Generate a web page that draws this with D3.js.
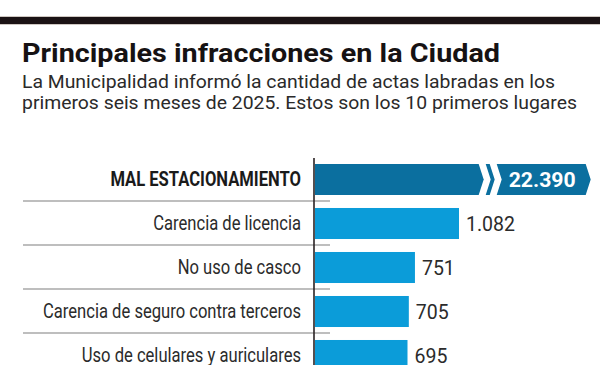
<!DOCTYPE html>
<html>
<head>
<meta charset="utf-8">
<script src="https://cdn.jsdelivr.net/npm/d3@7"></script>
<style>
  body { margin: 0; background: #fff; }
  svg { display: block; font-family: Roboto, 'Noto Sans', sans-serif; }
</style>
</head>
<body>
<script>
// data (only the first 5 of the 10 rows are visible)
const categories = [
  'MAL ESTACIONAMIENTO',
  'Carencia de licencia',
  'No uso de casco',
  'Carencia de seguro contra terceros',
  'Uso de celulares y auriculares'
]
const values = [22390, 1082, 751, 705, 695]
const valueLabels = ['22.390', '1.082', '751', '705', '695']
const highlighted = [true, false, false, false, false]

const titleText = 'Principales infracciones en la Ciudad'
const subtitleLines = [
  'La Municipalidad informó la cantidad de actas labradas en los',
  'primeros seis meses de 2025. Estos son los 10 primeros lugares'
]

const width = 600
const height = 365
const darkBlue = '#0b6f9f'
const lightBlue = '#0b9cd9'
const breakValue = 1230 // where the out-of-scale bar is cut

const svg = d3.select('body')
  .append('svg')
  .attr('width', width)
  .attr('height', height)

// top rule
svg.append('rect')
  .attr('x', 0).attr('y', 16).attr('width', width).attr('height', 9)
  .attr('fill', '#cfc8c2')
svg.append('rect')
  .attr('x', 0).attr('y', 17).attr('width', width).attr('height', 7)
  .attr('fill', '#1b1314')

svg.append('text')
  .attr('x', 22).attr('y', 62)
  .attr('font-size', 26).attr('font-weight', 700)
  .attr('fill', '#161213')
  .attr('textLength', 478).attr('lengthAdjust', 'spacingAndGlyphs')
  .text(titleText)

const subWidths = [533, 555]
svg.selectAll('text.sub')
  .data(subtitleLines)
  .enter()
  .append('text')
  .attr('class', 'sub')
  .attr('x', 22)
  .attr('y', (d, i) => 88 + i * 21)
  .attr('font-size', 17.5)
  .attr('fill', '#2a2a2a')
  .attr('textLength', (d, i) => subWidths[i])
  .attr('lengthAdjust', 'spacingAndGlyphs')
  .text(d => d)

// scales
const x = d3.scaleLinear()
  .domain([0, 1082])
  .range([315, 459])

const y = d3.scaleBand()
  .domain(categories)
  .range([157.5, 157.5 + categories.length * 44])
  .paddingInner(0.295)
  .paddingOuter(0.1475)

const rows = categories.map((c, i) => ({
  name: c, value: values[i], label: valueLabels[i], hi: highlighted[i]
}))

// separators between rows
svg.selectAll('line.sep')
  .data(categories.slice(1))
  .enter()
  .append('line')
  .attr('class', 'sep')
  .attr('x1', 23).attr('x2', 330)
  .attr('y1', d => y(d) - y.step() * y.paddingInner() / 2 - 0.5)
  .attr('y2', d => y(d) - y.step() * y.paddingInner() / 2 - 0.5)
  .attr('stroke', '#a9a9a9')
  .attr('stroke-width', 1.3)

// normal bars
const normal = rows.filter(d => !d.hi)
svg.selectAll('rect.bar')
  .data(normal)
  .enter()
  .append('rect')
  .attr('class', 'bar')
  .attr('x', x(0))
  .attr('y', d => y(d.name))
  .attr('width', d => x(d.value) - x(0))
  .attr('height', y.bandwidth())
  .attr('fill', lightBlue)

svg.selectAll('text.val')
  .data(normal)
  .enter()
  .append('text')
  .attr('class', 'val')
  .attr('x', d => x(d.value) + 7)
  .attr('y', d => y(d.name) + y.bandwidth() / 2 + 7)
  .attr('font-size', 19.5)
  .attr('fill', '#2b2b2b')
  .text(d => d.label)

// broken bar for the out-of-scale value
rows.filter(d => d.hi).forEach(d => {
  const t = y(d.name)
  const b = t + y.bandwidth()
  const m = (t + b) / 2
  const e = x(breakValue)
  const dep = 5
  const g = svg.append('g').attr('fill', darkBlue)
  g.append('path')
    .attr('d', `M${x(0)},${t}L${e},${t}L${e + dep},${m}L${e},${b}L${x(0)},${b}Z`)
  g.append('path')
    .attr('d', `M${e + 7},${t}L${e + 11},${t}L${e + 11 + dep},${m}L${e + 11},${b}L${e + 7},${b}L${e + 7 + dep},${m}Z`)
  const bx = e + 18
  const bw = 89
  g.append('path')
    .attr('d', `M${bx},${t}L${bx + bw},${t}L${bx + bw + dep},${m}L${bx + bw},${b}L${bx},${b}L${bx + dep},${m}Z`)
  svg.append('text')
    .attr('x', bx + 12)
    .attr('y', m + 7)
    .attr('font-size', 20)
    .attr('font-weight', 700)
    .attr('fill', '#fff')
    .attr('textLength', 67).attr('lengthAdjust', 'spacingAndGlyphs')
    .text(d.label)
})

// category labels, condensed look
const labelCondense = 0.83
const labels = svg.append('g')
  .attr('transform', `translate(301,0) scale(${labelCondense},1)`)
labels.selectAll('text')
  .data(rows)
  .enter()
  .append('text')
  .attr('x', 0)
  .attr('y', d => y(d.name) + y.bandwidth() / 2 + 7)
  .attr('text-anchor', 'end')
  .attr('font-size', 20)
  .attr('font-weight', d => d.hi ? 700 : 400)
  .attr('fill', d => d.hi ? '#1a1a1a' : '#2b2b2b')
  .text(d => d.name)

// vertical axis line
svg.append('line')
  .attr('x1', 314).attr('x2', 314)
  .attr('y1', 158).attr('y2', height)
  .attr('stroke', '#2a2224')
  .attr('stroke-width', 1.6)
</script>
</body>
</html>
